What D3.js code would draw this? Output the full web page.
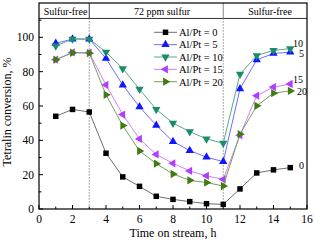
<!DOCTYPE html>
<html><head><meta charset="utf-8">
<script src="https://cdn.jsdelivr.net/npm/d3@7"></script>
<style>body{margin:0;background:#fff}svg{display:block}text{font-family:"Liberation Serif","DejaVu Serif",serif}</style>
</head><body><svg id="c" width="315" height="243" font-family="Liberation Serif, serif"></svg>
<script>
const time = [1,2,3,4,5,6,7,8,9,10,11,12,13,14,15];
const al0  = [54,58,56.5,32.5,18.7,13.2,7.4,5.6,4.3,3.1,2.7,11.7,21,22.8,24.1];
const al5  = [96.5,99,99,87.7,72.2,59.5,48.8,39.3,34,30.2,27.6,70,86.9,90.6,91.4];
const al10 = [95,99,99,91.4,81.8,69.8,58,50,45.1,40.8,38.3,78.6,89.4,92.4,93.4];
const al15 = [87,91.2,91,72.3,55,40.8,31.8,26.6,22.2,19.3,17.3,43,66,71,72.8];
const al20 = [87,91,90.8,66.5,48.6,33.8,26.4,20.4,16.7,15.4,13.4,43.6,60.1,67.5,68.8];
const seriesNames = ["Al/Pt = 0","Al/Pt = 5","Al/Pt = 10","Al/Pt = 15","Al/Pt = 20"];
const endLabels = ["0","5","10","15","20"];
const xTicks = [0,2,4,6,8,10,12,14,16];
const yTicks = [0,20,40,60,80,100];
const phaseLabels = ["Sulfur-free","72 ppm sulfur","Sulfur-free"];
const phaseBounds = [3,11];

const svg = d3.select("#c");
const L=39,R=307,T=3,B=209;
const x = d3.scaleLinear([0,16],[L,R]);
const y = d3.scaleLinear([0,120],[B,T]);

const styles = [
  {fill:"#000000", line:"#6e6e6e", sym:d3.symbolSquare, size:30, rot:0},
  {fill:"#1016ff", line:"#6a70ff", sym:d3.symbolTriangle, size:30, rot:0},
  {fill:"#1a8c6c", line:"#5aa88e", sym:d3.symbolTriangle, size:30, rot:180},
  {fill:"#b23cff", line:"#c884ff", sym:d3.symbolTriangle, size:30, rot:-90},
  {fill:"#3f7a12", line:"#76a05a", sym:d3.symbolTriangle, size:30, rot:90}
];
const data = [al0,al5,al10,al15,al20];

// axes ticks (inward)
const gx = svg.append("g");
d3.range(0,17,1).forEach(v=>{
  const major = v%2===0;
  gx.append("line").attr("x1",x(v)).attr("x2",x(v)).attr("y1",B).attr("y2",B-(major?4:2.5)).attr("stroke","#000");
});
xTicks.forEach(v=>{
  gx.append("text").attr("x",x(v)).attr("y",B+14).attr("text-anchor","middle").attr("font-size",11.5).text(v);
});
d3.range(0,111,10).forEach(v=>{
  const major = v%20===0;
  gx.append("line").attr("x1",L).attr("x2",L+(major?4:2.5)).attr("y1",y(v)).attr("y2",y(v)).attr("stroke","#000");
});
yTicks.forEach(v=>{
  gx.append("text").attr("x",L-5).attr("y",y(v)+4).attr("text-anchor","end").attr("font-size",11.5).text(v);
});

// header band
const hy = y(111);
svg.append("line").attr("x1",L).attr("x2",R).attr("y1",hy).attr("y2",hy).attr("stroke","#333").attr("stroke-width",1);
phaseBounds.forEach((b,i)=>{
  svg.append("line").attr("x1",x(b)).attr("x2",x(b)).attr("y1",T).attr("y2",hy).attr("stroke",i===0?"#333":"#888");
  svg.append("line").attr("x1",x(b)).attr("x2",x(b)).attr("y1",hy).attr("y2",B).attr("stroke","#555").attr("stroke-dasharray","1,2");
});
const phaseX = [65.5,162,270];
phaseLabels.forEach((t,i)=>{
  svg.append("text").attr("x",phaseX[i]).attr("y",15).attr("text-anchor","middle").attr("font-size",10).text(t);
});

// series
const line = d3.line().x((d,i)=>x(time[i])).y(d=>y(d));
data.forEach((s,k)=>{
  const st = styles[k];
  svg.append("path").attr("d",line(s)).attr("fill","none").attr("stroke",st.line).attr("stroke-width",1);
  const sym = d3.symbol(st.sym, st.size);
  svg.append("g").selectAll("path").data(s).join("path")
    .attr("d",sym)
    .attr("transform",(d,i)=>`translate(${x(time[i])},${y(d)}) rotate(${st.rot})`)
    .attr("fill",st.fill);
});

// legend
const lgX0=154, lgX1=177, lgY0=32.3, lgDy=12.35;
seriesNames.forEach((n,k)=>{
  const st = styles[k], yy = lgY0+k*lgDy;
  svg.append("line").attr("x1",lgX0).attr("x2",lgX1).attr("y1",yy).attr("y2",yy).attr("stroke",st.line);
  svg.append("path").attr("d",d3.symbol(st.sym,st.size)).attr("transform",`translate(${(lgX0+lgX1)/2},${yy}) rotate(${st.rot})`).attr("fill",st.fill);
  svg.append("text").attr("x",lgX1+2).attr("y",yy+3.8).attr("font-size",10.5).text(n);
});

// end labels
const endPos = [[299,169],[299,57],[293,47],[293,83],[297,94.5]];
endLabels.forEach((t,k)=>{
  svg.append("text").attr("x",endPos[k][0]).attr("y",endPos[k][1]).attr("font-size",10).text(t);
});

// frame
svg.append("rect").attr("x",L).attr("y",T).attr("width",R-L).attr("height",B-T).attr("fill","none").attr("stroke","#000").attr("stroke-width",1.2);

// axis titles
svg.append("text").attr("x",173).attr("y",237).attr("text-anchor","middle").attr("font-size",12).text("Time on stream, h");
svg.append("text").attr("transform","translate(11,112) rotate(-90)").attr("text-anchor","middle").attr("font-size",12).text("Tetralin conversion, %");
</script></body></html>
